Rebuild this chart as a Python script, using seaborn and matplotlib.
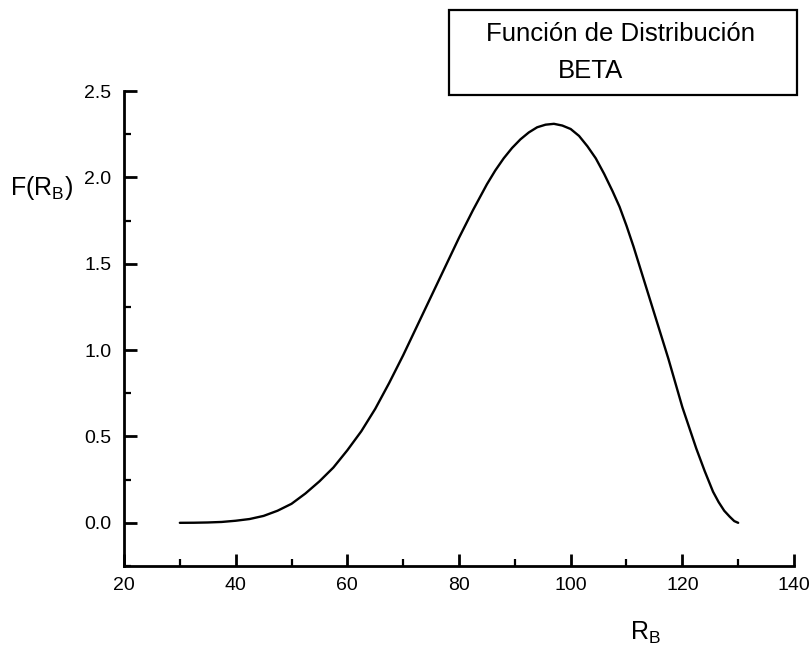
import matplotlib
matplotlib.use("Agg")
import matplotlib.pyplot as plt
from matplotlib.patches import Rectangle
from matplotlib.ticker import MultipleLocator
import seaborn as sns
import pandas as pd

sns.set_theme(style="ticks")
plt.rcParams['font.family'] = ['Liberation Sans', 'DejaVu Sans']
plt.rcParams['mathtext.fontset'] = 'custom'
plt.rcParams['mathtext.rm'] = 'Liberation Sans'
plt.rcParams['mathtext.it'] = 'Liberation Sans'
plt.rcParams['text.color'] = 'black'
plt.rcParams['axes.labelcolor'] = 'black'

rb = [30, 32.5, 35, 37.5, 40, 42.5, 45, 47.5, 50, 52.5, 55, 57.5, 60, 62.5, 65,
      67.5, 70, 72.5, 75, 77.5, 80, 82.5, 85, 86.5, 88, 89.5, 91, 92.5, 94, 95.5,
      97, 98.5, 100, 101.5, 103, 104.5, 106, 107.5, 108.75, 110, 111.25, 112.5,
      115, 117.5, 120, 122.5, 124, 125.5, 126.5, 127.5, 128.5, 129.3, 130]
f_rb = [0.0, 0.0005, 0.002, 0.005, 0.012, 0.022, 0.04, 0.07, 0.11, 0.17, 0.24,
        0.32, 0.42, 0.53, 0.66, 0.81, 0.97, 1.14, 1.31, 1.48, 1.65, 1.81, 1.96,
        2.04, 2.11, 2.17, 2.22, 2.26, 2.29, 2.305, 2.31, 2.30, 2.28, 2.24,
        2.18, 2.11, 2.02, 1.92, 1.83, 1.72, 1.60, 1.47,
        1.21, 0.95, 0.67, 0.43, 0.30, 0.18, 0.12, 0.07, 0.035, 0.01, 0.0]

df = pd.DataFrame({"RB": rb, "F": f_rb})

fig = plt.figure(figsize=(8.11, 6.47), dpi=100)
ax = fig.add_axes([124/811, 1-566/647, 670/811, 475/647])
sns.lineplot(data=df, x="RB", y="F", ax=ax, color="black", linewidth=1.7)

ax.set_xlim(20, 140)
ax.set_ylim(-0.25, 2.5)
ax.xaxis.set_major_locator(MultipleLocator(20))
ax.xaxis.set_minor_locator(MultipleLocator(10))
ax.yaxis.set_minor_locator(MultipleLocator(0.25))
ax.set_yticks([0.0, 0.5, 1.0, 1.5, 2.0, 2.5])
ax.set_yticklabels(["0.0", "0.5", "1.0", "1.5", "2.0", "2.5"])
ax.tick_params(which='major', direction='in', length=9, width=2, labelsize=14,
               colors='black', labelcolor='black', pad=8)
ax.tick_params(which='minor', direction='in', length=5, width=1.6, colors='black')
ax.tick_params(axis='y', which='both', pad=9)
for s in ['top', 'right']:
    ax.spines[s].set_visible(False)
for s in ['left', 'bottom']:
    ax.spines[s].set_linewidth(2)
    ax.spines[s].set_color('black')
ax.set_xlabel("")
ax.set_ylabel("")

fig.text(10/811, 1-188/647, r"F(R$_\mathregular{B}$)", fontsize=18, ha='left', va='center')
fig.text(630/811, 1-633/647, r"R$_\mathregular{B}$", fontsize=18, ha='left', va='center')

fig.patches.append(Rectangle((449/811, 1-95/647), 348/811, 85/647, transform=fig.transFigure,
                             fill=False, edgecolor='black', linewidth=1.6))
fig.text(620/811, 1-34/647, "Función de Distribución", fontsize=18.5, ha='center', va='center')
fig.text(558/811, 1-71/647, "BETA", fontsize=18.5, ha='left', va='center')

fig.savefig("out.png", dpi=100)
